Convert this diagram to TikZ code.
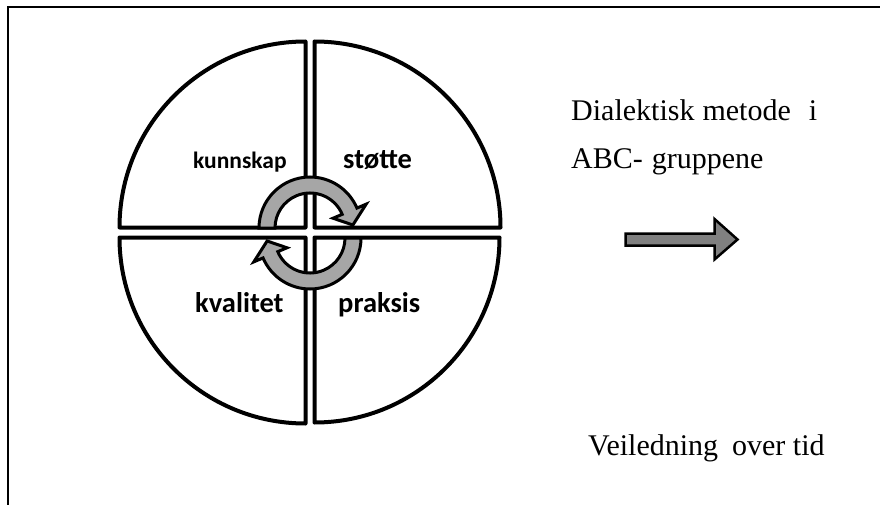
\documentclass[tikz,border=0pt]{standalone}
\usepackage{fontspec}
\setmainfont{Liberation Serif}
\newfontfamily\calib{Carlito}
\begin{document}
\begin{tikzpicture}[x=1pt,y=-1pt,
  quad/.style={draw=black,fill=white,line width=4pt,line join=round},
  ring/.style={draw=black,fill=black!35,line width=3pt,line join=miter},
  bigarrow/.style={draw=black,fill=black!50,line width=2.5pt,line join=miter},
  frame/.style={draw=black,line width=2pt},
  lab/.style={inner sep=0pt,anchor=base west,font=\calib\bfseries\fontsize{28.5pt}{32pt}\selectfont},
  labs/.style={inner sep=0pt,anchor=base west,font=\calib\bfseries\fontsize{23.5pt}{28pt}\selectfont},
  txt/.style={inner sep=0pt,anchor=base west,font=\fontsize{30pt}{34pt}\selectfont}]
\useasboundingbox (0,0) rectangle (880,505);
% frame
\coordinate (f1) at (7.5,505);
\coordinate (f2) at (7.5,7.5);
\coordinate (f3) at (880,7.5);
\draw[frame] (f1) -- (f2) -- (f3);
% quadrants
\coordinate (TL) at (305.5,227.5);
\coordinate (TR) at (314.5,227.5);
\coordinate (BL) at (305.5,237.5);
\coordinate (BR) at (314.5,237.5);
\draw[quad] (TL) -- ([shift={(TL)}]180:186) arc[start angle=180,end angle=270,radius=186] -- cycle;
\draw[quad] (TR) -- ([shift={(TR)}]270:186) arc[start angle=270,end angle=360,radius=186] -- cycle;
\draw[quad] (BR) -- ([shift={(BR)}]0:185) arc[start angle=0,end angle=90,radius=185] -- cycle;
\draw[quad] (BL) -- ([shift={(BL)}]90:186) arc[start angle=90,end angle=180,radius=186] -- cycle;
% circular arrows
\coordinate (U) at (310,228);
\coordinate (D) at (310,238);
\draw[ring] ([shift={(U)}]180:51) arc[start angle=180,end angle=337,radius=51]
  -- ([shift={(U)}]337:61) -- ([shift={(U)}]356:43) -- ([shift={(U)}]337:25)
  -- ([shift={(U)}]337:35) arc[start angle=337,end angle=180,radius=35] -- cycle;
\draw[ring] ([shift={(D)}]0:51) arc[start angle=0,end angle=157,radius=51]
  -- ([shift={(D)}]157:61) -- ([shift={(D)}]176:43) -- ([shift={(D)}]157:25)
  -- ([shift={(D)}]157:35) arc[start angle=157,end angle=0,radius=35] -- cycle;
% labels
\node[labs] (kunn) at (193,168) {kunnskap};
\node[lab] (stot) at (343,168) {støtte};
\node[lab] (kval) at (195,312) {kvalitet};
\node[lab] (prak) at (338,312) {praksis};
% right side
\node[txt] (t1) at (571,121) {Dialektisk\hspace{8pt}metode\hspace{18pt}i};
\node[txt] (t2) at (571,168) {ABC-\hspace{9pt}gruppene};
\node[txt] (t3) at (588,455) {Veiledning\hspace{14pt}over tid};
% big arrow
\draw[bigarrow] (625.5,233.5) -- (714.5,233.5) -- (714.5,219) -- (737.5,239.5)
  -- (714.5,259.5) -- (714.5,245.5) -- (625.5,245.5) -- cycle;
\end{tikzpicture}
\end{document}
